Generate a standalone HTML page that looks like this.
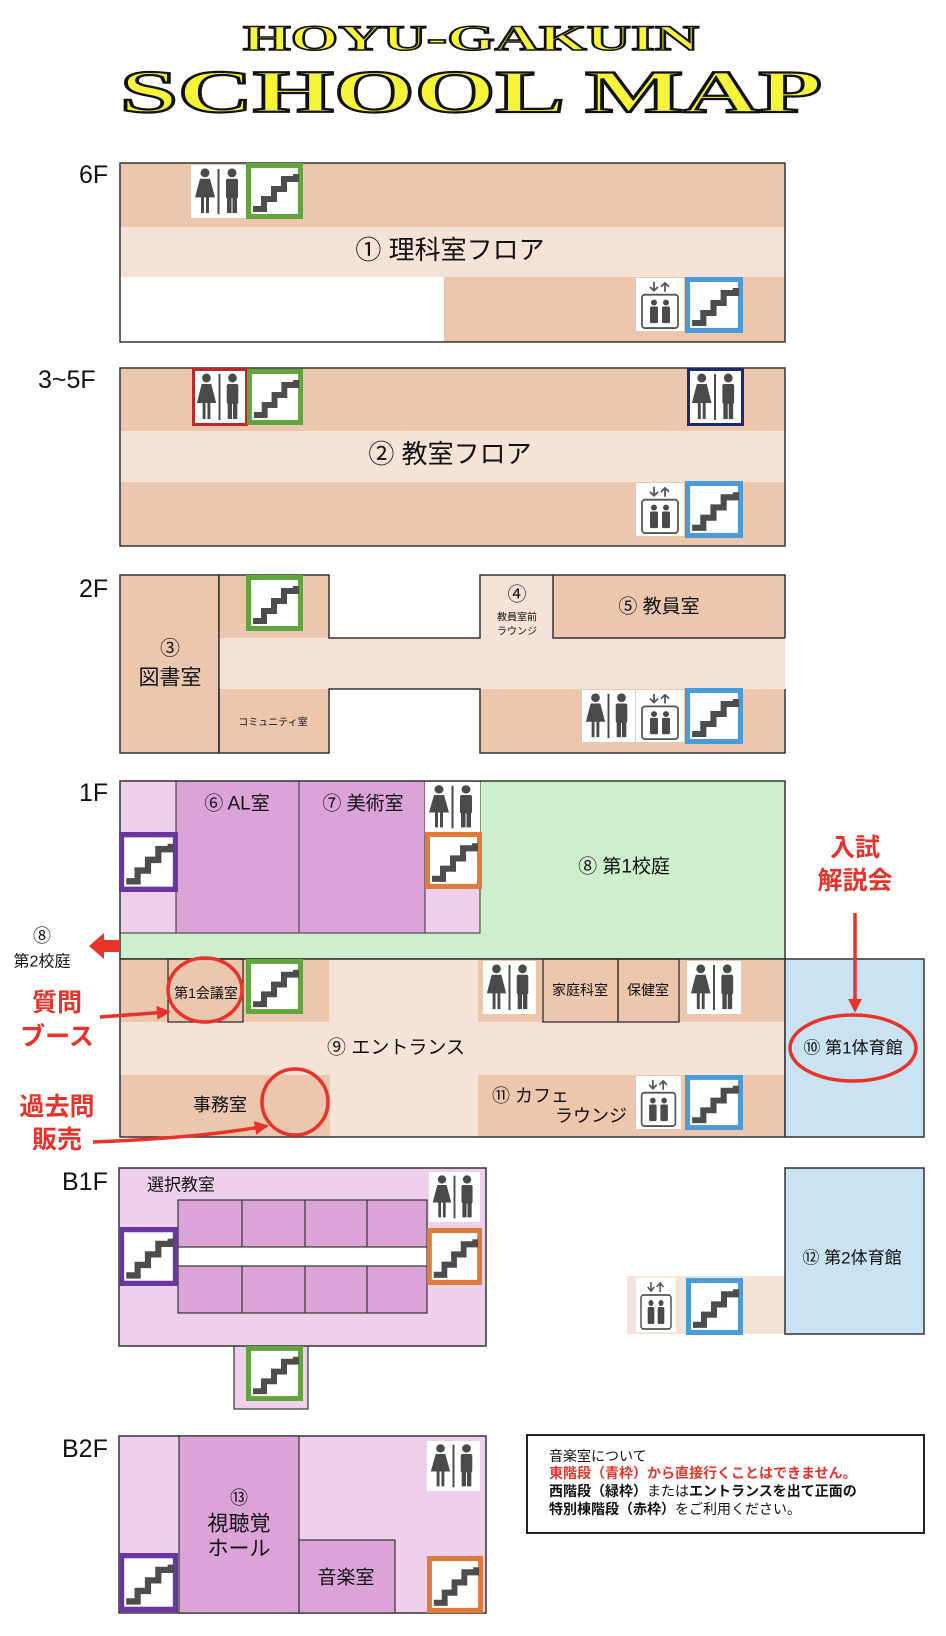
<!DOCTYPE html>
<html><head><meta charset="utf-8"><style>
html,body{margin:0;padding:0;background:#fff;}
svg{display:block;}
text{font-family:"Liberation Sans","Noto Sans CJK JP",sans-serif;fill:#111;}
</style></head><body>
<svg width="946" height="1636" viewBox="0 0 946 1636" xmlns="http://www.w3.org/2000/svg">
<defs>
<symbol id="st" viewBox="0 0 57 56" preserveAspectRatio="none">
<rect x="2.5" y="2.5" width="52" height="51" fill="#fff" stroke="currentColor" stroke-width="5"/>
<path d="M7,46 H18 V36 H28 V26 H38 V16 H50 V11" fill="none" stroke="#4d4d4d" stroke-width="6"/>
</symbol>
<symbol id="rr" viewBox="0 0 55 54" preserveAspectRatio="none">
<rect x="0" y="0" width="55" height="54" fill="#fff"/>
<g fill="#4a4a4a">
<circle cx="14" cy="8" r="4.5"/>
<path d="M9,14 H19 L24,33 H4 Z"/>
<rect x="10" y="32" width="3" height="17"/><rect x="15" y="32" width="3" height="17"/>
<rect x="26.5" y="4" width="2" height="46"/>
<circle cx="41" cy="8" r="4.5"/>
<rect x="35" y="14" width="12" height="20" rx="2"/>
<rect x="36" y="32" width="4.5" height="17"/><rect x="41.5" y="32" width="4.5" height="17"/>
</g>
</symbol>
<symbol id="el" viewBox="0 0 48 54" preserveAspectRatio="none">
<rect x="0" y="0" width="48" height="54" fill="#fff"/>
<g stroke="#555" stroke-width="1.8" fill="none">
<path d="M18,4 V13 M14,9 L18,13 L22,9"/>
<path d="M29,14 V5 M25,9 L29,5 L33,9"/>
<rect x="6" y="17" width="36" height="34" rx="3"/>
</g>
<g fill="#4a4a4a">
<circle cx="18" cy="25" r="3"/><rect x="14" y="29" width="8" height="17" rx="1.5"/>
<circle cx="30" cy="25" r="3"/><rect x="26" y="29" width="8" height="17" rx="1.5"/>
</g>
</symbol>
<marker id="ah" viewBox="0 0 10 10" refX="8" refY="5" markerWidth="4" markerHeight="4" orient="auto"><path d="M0,0 L10,5 L0,10 Z" fill="#e8332a"/></marker>
</defs>

<!-- Title -->
<text x="471" y="50" text-anchor="middle" textLength="456" lengthAdjust="spacingAndGlyphs" style="font-family:'Liberation Serif',serif;font-weight:bold;font-size:36px;fill:#f7f53a;stroke:#111;stroke-width:1.6">HOYU-GAKUIN</text>
<text x="471" y="112" text-anchor="middle" textLength="702" lengthAdjust="spacingAndGlyphs" style="font-family:'Liberation Serif',serif;font-weight:bold;font-size:60px;fill:#f7f53a;stroke:#111;stroke-width:2.2">SCHOOL MAP</text>

<!-- floor labels -->
<g style="font-size:25px">
<text x="79" y="183">6F</text>
<text x="38" y="388">3~5F</text>
<text x="79" y="597">2F</text>
<text x="79" y="801">1F</text>
<text x="62" y="1190">B1F</text>
<text x="62" y="1457">B2F</text>
</g>

<!-- 6F -->
<rect x="120" y="163" width="665" height="64" fill="#ecc7ae"/>
<rect x="120" y="227" width="665" height="50" fill="#f5e3d7"/>
<rect x="444" y="277" width="341" height="65" fill="#ecc7ae"/>
<rect x="120" y="163" width="665" height="179" fill="none" stroke="#333" stroke-width="1.5"/>
<use href="#rr" x="191" y="165" width="55" height="53"/>
<use href="#st" x="246" y="163" width="57" height="56" color="#62a53e"/>
<use href="#el" x="636" y="278" width="48" height="53"/>
<use href="#st" x="685" y="277" width="58" height="56" color="#4a9bd8"/>
<text x="450" y="250" text-anchor="middle" dominant-baseline="central" style="font-size:26px">① 理科室フロア</text>

<!-- 3-5F -->
<rect x="120" y="368" width="665" height="63" fill="#ecc7ae"/>
<rect x="120" y="431" width="665" height="51" fill="#f5e3d7"/>
<rect x="120" y="482" width="665" height="64" fill="#ecc7ae"/>
<rect x="120" y="368" width="665" height="178" fill="none" stroke="#333" stroke-width="1.5"/>
<use href="#rr" x="193" y="370" width="53" height="54"/>
<rect x="193.5" y="369.5" width="53" height="55" fill="none" stroke="#c0272d" stroke-width="3"/>
<use href="#st" x="247" y="369" width="56" height="56" color="#62a53e"/>
<use href="#rr" x="688" y="370" width="54" height="54"/>
<rect x="688.5" y="369.5" width="54" height="55" fill="none" stroke="#1b2a6b" stroke-width="3"/>
<use href="#el" x="636" y="483" width="48" height="53"/>
<use href="#st" x="685" y="481" width="58" height="57" color="#4a9bd8"/>
<text x="450" y="454" text-anchor="middle" dominant-baseline="central" style="font-size:26px">② 教室フロア</text>

<!-- 2F -->
<rect x="120" y="575" width="99" height="178" fill="#ecc7ae" stroke="#333" stroke-width="1.5"/>
<rect x="219" y="575" width="110" height="63" fill="#ecc7ae"/>
<rect x="219" y="638" width="566" height="51" fill="#f5e3d7"/>
<rect x="219" y="689" width="110" height="64" fill="#ecc7ae"/>
<rect x="480" y="575" width="73" height="63" fill="#f5e3d7"/>
<rect x="553" y="575" width="232" height="63" fill="#ecc7ae"/>
<rect x="480" y="689" width="305" height="64" fill="#ecc7ae"/>
<path d="M219,575 H329 V638 H480 V575 H785 V638 M553,575 V638 H785 M785,689 V753 H480 V689 H329 V753 H219 V575" fill="none" stroke="#333" stroke-width="1.5"/>
<line x1="219" y1="689" x2="219" y2="753" stroke="#333" stroke-width="1.5"/>
<use href="#st" x="246" y="575" width="57" height="56" color="#62a53e"/>
<use href="#rr" x="582" y="690" width="53" height="52"/>
<use href="#el" x="636" y="690" width="48" height="52"/>
<use href="#st" x="685" y="688" width="58" height="56" color="#4a9bd8"/>
<text x="170" y="649" text-anchor="middle" dominant-baseline="central" style="font-size:20px">③</text>
<text x="170" y="678" text-anchor="middle" dominant-baseline="central" style="font-size:21px">図書室</text>
<text x="273" y="723" text-anchor="middle" dominant-baseline="central" style="font-size:10px">コミュニティ室</text>
<text x="517" y="595" text-anchor="middle" dominant-baseline="central" style="font-size:19px">④</text>
<text x="517" y="618" text-anchor="middle" dominant-baseline="central" style="font-size:10px">教員室前</text>
<text x="517" y="632" text-anchor="middle" dominant-baseline="central" style="font-size:10px">ラウンジ</text>
<text x="659" y="607" text-anchor="middle" dominant-baseline="central" style="font-size:19px">⑤ 教員室</text>

<!-- 1F -->
<rect x="480" y="781" width="305" height="178" fill="#cdefcc"/>
<rect x="120" y="933" width="360" height="26" fill="#cdefcc"/>
<rect x="120" y="781" width="56" height="152" fill="#eed0ec" stroke="#333" stroke-width="1"/>
<rect x="176" y="781" width="123" height="152" fill="#dba3d8" stroke="#333" stroke-width="1"/>
<rect x="299" y="781" width="126" height="152" fill="#dba3d8" stroke="#333" stroke-width="1"/>
<rect x="425" y="781" width="55" height="152" fill="#eed0ec" stroke="#333" stroke-width="1"/>
<rect x="120" y="781" width="665" height="178" fill="none" stroke="#333" stroke-width="1.5"/>
<rect x="120" y="959" width="665" height="178" fill="#f5e3d7"/>
<rect x="120" y="959" width="209" height="63" fill="#ecc7ae"/>
<rect x="478" y="959" width="307" height="63" fill="#ecc7ae"/>
<rect x="120" y="1075" width="210" height="62" fill="#ecc7ae"/>
<rect x="478" y="1075" width="307" height="62" fill="#ecc7ae"/>
<rect x="120" y="959" width="665" height="178" fill="none" stroke="#333" stroke-width="1.5"/>
<rect x="785" y="959" width="139" height="178" fill="#c9e3f2" stroke="#333" stroke-width="1.5"/>
<rect x="168" y="959" width="75" height="63" fill="none" stroke="#222" stroke-width="1.2"/>
<rect x="543" y="959" width="75" height="63" fill="none" stroke="#222" stroke-width="1.2"/>
<rect x="618" y="959" width="61" height="63" fill="none" stroke="#222" stroke-width="1.2"/>
<use href="#rr" x="425" y="782" width="55" height="50"/>
<use href="#st" x="119" y="832" width="59" height="60" color="#6a36a0"/>
<use href="#st" x="425" y="832" width="57" height="57" color="#e07b3a"/>
<use href="#st" x="246" y="959" width="57" height="55" color="#62a53e"/>
<use href="#rr" x="483" y="961" width="53" height="53"/>
<use href="#rr" x="687" y="961" width="54" height="53"/>
<use href="#el" x="636" y="1076" width="45" height="53"/>
<use href="#st" x="685" y="1075" width="58" height="55" color="#4a9bd8"/>
<text x="237" y="804" text-anchor="middle" dominant-baseline="central" style="font-size:19px">⑥ AL室</text>
<text x="363" y="804" text-anchor="middle" dominant-baseline="central" style="font-size:19px">⑦ 美術室</text>
<text x="624" y="867" text-anchor="middle" dominant-baseline="central" style="font-size:19px">⑧ 第1校庭</text>
<text x="206" y="993" text-anchor="middle" dominant-baseline="central" style="font-size:14px">第1会議室</text>
<text x="580" y="990" text-anchor="middle" dominant-baseline="central" style="font-size:14px">家庭科室</text>
<text x="648" y="990" text-anchor="middle" dominant-baseline="central" style="font-size:14px">保健室</text>
<text x="396" y="1048" text-anchor="middle" dominant-baseline="central" style="font-size:19px">⑨ エントランス</text>
<text x="220" y="1105" text-anchor="middle" dominant-baseline="central" style="font-size:18px">事務室</text>
<text x="492" y="1096" dominant-baseline="central" style="font-size:18px">⑪ カフェ</text>
<text x="555" y="1116" dominant-baseline="central" style="font-size:18px">ラウンジ</text>
<text x="853" y="1048" text-anchor="middle" dominant-baseline="central" style="font-size:17px">⑩ 第1体育館</text>
<text x="42" y="936" text-anchor="middle" dominant-baseline="central" style="font-size:18px">⑧</text>
<text x="42" y="962" text-anchor="middle" dominant-baseline="central" style="font-size:16px">第2校庭</text>
<path d="M120,940 H104 V933 L89,946 L104,959 V952 H120 Z" fill="#e8332a"/>

<!-- red annotations -->
<g stroke="#e8332a" stroke-width="3.5" fill="none">
<ellipse cx="205" cy="990" rx="37" ry="32"/>
<ellipse cx="295" cy="1102" rx="33" ry="33"/>
<ellipse cx="853" cy="1048" rx="63" ry="33"/>
<line x1="100" y1="1017" x2="168" y2="1012" marker-end="url(#ah)"/>
<path d="M93,1142 Q200,1138 266,1126" marker-end="url(#ah)"/>
<line x1="855" y1="913" x2="855" y2="1010" marker-end="url(#ah)"/>
</g>
<g style="font-size:25px;font-weight:bold" text-anchor="middle">
<text x="855" y="848" dominant-baseline="central" style="fill:#e8332a">入試</text>
<text x="855" y="881" dominant-baseline="central" style="fill:#e8332a">解説会</text>
<text x="57" y="1003" dominant-baseline="central" style="fill:#e8332a">質問</text>
<text x="57" y="1037" dominant-baseline="central" style="fill:#e8332a">ブース</text>
<text x="57" y="1107" dominant-baseline="central" style="fill:#e8332a">過去問</text>
<text x="57" y="1140" dominant-baseline="central" style="fill:#e8332a">販売</text>
</g>

<!-- B1F -->
<rect x="234" y="1340" width="74" height="69" fill="#eed0ec" stroke="#333" stroke-width="1.2"/>
<rect x="119" y="1168" width="367" height="178" fill="#eed0ec" stroke="#333" stroke-width="1.5"/>
<rect x="178" y="1200" width="249" height="113" fill="#dba3d8" stroke="#333" stroke-width="1.2"/>
<rect x="178" y="1247" width="249" height="19" fill="#fff" stroke="#333" stroke-width="1.2"/>
<path d="M242,1200 V1247 M305,1200 V1247 M367,1200 V1247 M242,1266 V1313 M305,1266 V1313 M367,1266 V1313" stroke="#333" stroke-width="1.2"/>
<use href="#rr" x="429" y="1172" width="51" height="50"/>
<use href="#st" x="119" y="1227" width="59" height="59" color="#6a36a0"/>
<use href="#st" x="427" y="1228" width="55" height="57" color="#e07b3a"/>
<use href="#st" x="246" y="1346" width="57" height="55" color="#62a53e"/>
<text x="147" y="1185" dominant-baseline="central" style="font-size:17px">選択教室</text>

<!-- gym 2 -->
<rect x="627" y="1276" width="158" height="58" fill="#f5e3d7"/>
<rect x="785" y="1168" width="139" height="166" fill="#c9e3f2" stroke="#333" stroke-width="1.5"/>
<use href="#el" x="636" y="1278" width="40" height="54"/>
<use href="#st" x="686" y="1278" width="57" height="57" color="#4a9bd8"/>
<text x="852" y="1258" text-anchor="middle" dominant-baseline="central" style="font-size:17px">⑫ 第2体育館</text>

<!-- B2F -->
<rect x="119" y="1436" width="367" height="177" fill="#eed0ec" stroke="#333" stroke-width="1.5"/>
<rect x="179" y="1436" width="120" height="177" fill="#dba3d8" stroke="#333" stroke-width="1.2"/>
<rect x="299" y="1540" width="96" height="73" fill="#dba3d8" stroke="#333" stroke-width="1.2"/>
<use href="#rr" x="427" y="1441" width="53" height="50"/>
<use href="#st" x="119" y="1553" width="59" height="59" color="#6a36a0"/>
<use href="#st" x="427" y="1556" width="56" height="57" color="#e07b3a"/>
<text x="239" y="1498" text-anchor="middle" dominant-baseline="central" style="font-size:18px">⑬</text>
<text x="239" y="1524" text-anchor="middle" dominant-baseline="central" style="font-size:21px">視聴覚</text>
<text x="239" y="1549" text-anchor="middle" dominant-baseline="central" style="font-size:21px">ホール</text>
<text x="346" y="1578" text-anchor="middle" dominant-baseline="central" style="font-size:19px">音楽室</text>

<!-- note -->
<rect x="527" y="1435" width="397" height="98" fill="#fff" stroke="#222" stroke-width="2"/>
<g style="font-size:14px" dominant-baseline="central">
<text x="549" y="1456">音楽室について</text>
<text x="549" y="1473" style="fill:#e8332a;font-weight:bold">東階段（青枠）から直接行くことはできません。</text>
<text x="549" y="1491"><tspan style="font-weight:bold">西階段（緑枠）</tspan>または<tspan style="font-weight:bold">エントランスを出て正面の</tspan></text>
<text x="549" y="1509"><tspan style="font-weight:bold">特別棟階段（赤枠）</tspan>をご利用ください。</text>
</g>
</svg>
</body></html>
